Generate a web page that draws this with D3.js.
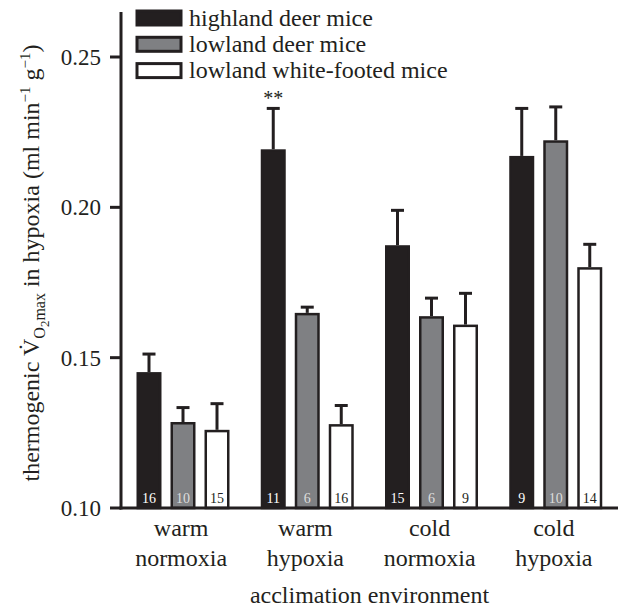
<!DOCTYPE html>
<html>
<head>
<meta charset="utf-8">
<script src="https://cdn.jsdelivr.net/npm/d3@7"></script>
<style>
  body { margin: 0; background: #fff; }
  svg text { font-family: "Liberation Serif", "DejaVu Serif", serif; fill: #231f20; }
</style>
</head>
<body>
<svg width="624" height="607"></svg>
<script>
const groups = ["warm normoxia", "warm hypoxia", "cold normoxia", "cold hypoxia"];
const series = ["highland deer mice", "lowland deer mice", "lowland white-footed mice"];
const colors = ["#231f20", "#7f8083", "#ffffff"];
const numColors = ["#ffffff", "#dddddd", "#231f20"];

// mean and upper error bar end, per series, per group
const highMean = [0.1452, 0.2193, 0.1874, 0.2171];
const highErr  = [0.1512, 0.2329, 0.1990, 0.2329];
const lowMean  = [0.1286, 0.1649, 0.1638, 0.2223];
const lowErr   = [0.1334, 0.1668, 0.1698, 0.2334];
const whiteMean = [0.1260, 0.1279, 0.1610, 0.1801];
const whiteErr  = [0.1347, 0.1341, 0.1714, 0.1877];
const highN  = [16, 11, 15, 9];
const lowN   = [10, 6, 6, 10];
const whiteN = [15, 16, 9, 14];
const yTicks = [0.10, 0.15, 0.20, 0.25];

const means = [highMean, lowMean, whiteMean];
const errs = [highErr, lowErr, whiteErr];
const ns = [highN, lowN, whiteN];

const rows = [];
groups.forEach((g, gi) => {
  series.forEach((s, si) => {
    rows.push({ g, s, si, v: means[si][gi], e: errs[si][gi], n: ns[si][gi] });
  });
});

const svg = d3.select("svg");
const left = 121, right = 618, bottom = 508;

const y = d3.scaleLinear().domain([0.10, 0.25]).range([bottom, 57]);
const x0 = d3.scaleBand().domain(groups).range([left, right]);
const x1 = d3.scaleBand().domain(series).range([15.5, 108.5]).paddingInner(0.265);

const g = svg.append("g");

// error bars
const eb = g.selectAll(".err").data(rows).enter().append("g");
eb.append("line")
  .attr("x1", d => x0(d.g) + x1(d.s) + x1.bandwidth() / 2)
  .attr("x2", d => x0(d.g) + x1(d.s) + x1.bandwidth() / 2)
  .attr("y1", d => y(d.v))
  .attr("y2", d => y(d.e))
  .attr("stroke", "#231f20").attr("stroke-width", 3);
eb.append("line")
  .attr("x1", d => x0(d.g) + x1(d.s) + x1.bandwidth() / 2 - 6.5)
  .attr("x2", d => x0(d.g) + x1(d.s) + x1.bandwidth() / 2 + 6.5)
  .attr("y1", d => y(d.e))
  .attr("y2", d => y(d.e))
  .attr("stroke", "#231f20").attr("stroke-width", 3);

// bars
g.selectAll(".bar").data(rows).enter().append("rect")
  .attr("x", d => x0(d.g) + x1(d.s) + 1.25)
  .attr("width", x1.bandwidth() - 2.5)
  .attr("y", d => y(d.v) + 1.25)
  .attr("height", d => bottom - y(d.v) - 1.25)
  .attr("fill", d => colors[d.si])
  .attr("stroke", "#231f20")
  .attr("stroke-width", 2.5);

// sample sizes
g.selectAll(".n").data(rows).enter().append("text")
  .attr("x", d => x0(d.g) + x1(d.s) + x1.bandwidth() / 2)
  .attr("y", bottom - 5)
  .attr("text-anchor", "middle")
  .style("font-size", "14px")
  .style("fill", d => numColors[d.si])
  .text(d => d.n);

// significance
svg.append("text")
  .attr("x", x0(groups[1]) + x1(series[0]) + x1.bandwidth() / 2)
  .attr("y", y(highErr[1]) - 3)
  .attr("text-anchor", "middle")
  .style("font-size", "20px")
  .text("**");

// axes
svg.append("line").attr("x1", left).attr("x2", left).attr("y1", 12).attr("y2", bottom + 1.5)
  .attr("stroke", "#231f20").attr("stroke-width", 3);
svg.append("line").attr("x1", left - 1.5).attr("x2", right).attr("y1", bottom).attr("y2", bottom)
  .attr("stroke", "#231f20").attr("stroke-width", 3);

const yt = svg.selectAll(".yt").data(yTicks).enter().append("g");
yt.append("line").attr("x1", left - 11).attr("x2", left).attr("y1", d => y(d)).attr("y2", d => y(d))
  .attr("stroke", "#231f20").attr("stroke-width", 3);
yt.append("text").attr("x", left - 20).attr("y", d => y(d) + 8)
  .attr("text-anchor", "end").style("font-size", "23px")
  .text(d => d3.format(".2f")(d));

// group labels
const gl = svg.selectAll(".gl").data(groups).enter().append("text")
  .attr("text-anchor", "middle").style("font-size", "24px");
gl.append("tspan").attr("x", d => x0(d) + x0.bandwidth() / 2 - 2).attr("y", 536).text(d => d.split(" ")[0]);
gl.append("tspan").attr("x", d => x0(d) + x0.bandwidth() / 2 - 2).attr("y", 566).text(d => d.split(" ")[1]);

svg.append("text").attr("x", (left + right) / 2).attr("y", 603)
  .attr("text-anchor", "middle").style("font-size", "24px")
  .text("acclimation environment");

// y title
const yl = svg.append("text")
  .attr("transform", "translate(39,263) rotate(-90)")
  .attr("text-anchor", "middle").style("font-size", "24px");
yl.append("tspan").text("thermogenic V\u0307");
yl.append("tspan").attr("dy", 6).style("font-size", "16px").text("O");
yl.append("tspan").attr("dy", 4).style("font-size", "13px").text("2");
yl.append("tspan").attr("dy", -4).style("font-size", "16px").text("max");
yl.append("tspan").attr("dy", -6).text(" in hypoxia (ml min");
yl.append("tspan").attr("dy", -9).style("font-size", "15px").text("\u22121");
yl.append("tspan").attr("dy", 9).text(" g");
yl.append("tspan").attr("dy", -9).style("font-size", "15px").text("\u22121");
yl.append("tspan").attr("dy", 9).text(")");

// legend
const lg = svg.selectAll(".lg").data(series).enter().append("g")
  .attr("transform", (d, i) => `translate(0,${18 + i * 26.3})`);
lg.append("rect").attr("x", 137).attr("y", -7).attr("width", 44).attr("height", 14)
  .attr("fill", (d, i) => colors[i]).attr("stroke", "#231f20").attr("stroke-width", 3);
lg.append("text").attr("x", 189).attr("y", 7.5).style("font-size", "24px").text(d => d);
</script>
</body>
</html>
